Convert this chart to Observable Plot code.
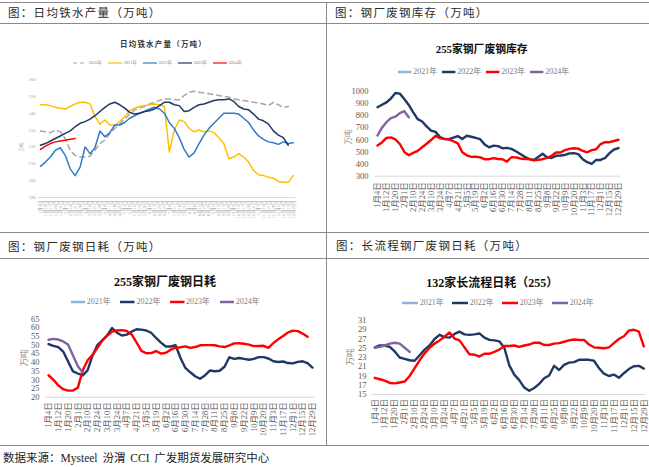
<!DOCTYPE html>
<html><head><meta charset="utf-8">
<script src="https://cdn.jsdelivr.net/npm/d3@7"></script>
<script src="https://cdn.jsdelivr.net/npm/@observablehq/plot@0.6"></script>
<style>
body{margin:0;background:#fff;}
#root{position:relative;width:649px;height:467px;overflow:hidden;background:#fff;font-family:"Liberation Serif","Noto Sans CJK SC",serif;}
.hdr{position:absolute;font-family:"Noto Sans CJK SC";font-size:11.5px;letter-spacing:1.3px;color:#2a2a2a;line-height:1;white-space:nowrap;transform:translateY(-50%);}
.hl{position:absolute;height:1px;background:#8a8a8a;}
.vl{position:absolute;width:1px;background:#8a8a8a;}
.ttl{position:absolute;transform:translate(-50%,-50%);white-space:nowrap;font-weight:bold;line-height:1;color:#111;}
.ytl{position:absolute;transform:translate(-50%,-50%) rotate(-90deg);white-space:nowrap;line-height:1;color:#8c8c8c;font-family:"Noto Sans CJK SC";}
.lg{position:absolute;display:flex;align-items:center;height:10px;transform:translateY(-50%);white-space:nowrap;line-height:1;color:#808080;}
.plotbox{position:absolute;}
.src{position:absolute;left:3px;top:457px;transform:translateY(-50%);font-size:11.5px;color:#222;white-space:nowrap;font-family:"Liberation Serif","Noto Sans CJK SC",serif;word-spacing:2px;}
</style>
</head><body>
<div id="root">
  <div class="hl" style="left:0;top:2px;width:649px"></div>
  <div class="hl" style="left:0;top:23px;width:649px"></div>
  <div class="hl" style="left:0;top:232px;width:649px"></div>
  <div class="hl" style="left:0;top:258px;width:649px"></div>
  <div class="hl" style="left:0;top:445px;width:649px"></div>
  <div class="vl" style="left:326px;top:2px;height:443px"></div>
  <div class="hdr" style="left:8px;top:13px">图：日均铁水产量（万吨）</div>
  <div class="hdr" style="left:335px;top:13px">图：钢厂废钢库存（万吨）</div>
  <div class="hdr" style="left:8px;top:246.5px">图：钢厂废钢日耗（万吨）</div>
  <div class="hdr" style="left:336px;top:246px">图：长流程钢厂废钢日耗（万吨）</div>
  <div class="src">数据来源：Mysteel 汾渭 CCI 广发期货发展研究中心</div>
</div>
<script>
// ---------- data ----------
const weeks1 = ["1月3日","1月10日","1月17日","1月24日","1月31日","2月7日","2月14日","2月21日","2月28日","3月7日","3月14日","3月21日","3月28日","4月4日","4月11日","4月18日","4月25日","5月2日","5月9日","5月16日","5月23日","5月30日","6月6日","6月13日","6月20日","6月27日","7月4日","7月11日","7月18日","7月25日","8月1日","8月8日","8月15日","8月22日","8月29日","9月5日","9月12日","9月19日","9月26日","10月3日","10月10日","10月17日","10月24日","10月31日","11月7日","11月14日","11月21日","11月28日","12月5日","12月12日","12月19日","12月26日"];
const ironSeries = ["2020年","2021年","2022年","2023年","2024年"];
const iron2020 = [229.5,229,228.5,230,229,225,218,215,214,214,214.5,218,222,224,228,231,233.5,236.5,239.5,242,243,244,245.5,246.5,247.5,248.5,248.5,248,248,250.5,252.5,253,252.5,252,251.5,251,250.5,250,249.5,248.5,248,247.5,247,246.5,246,245.5,244.5,246.5,245,243.5,244];
const iron2021 = [245,245,244.5,243.5,243,242.5,244,245.5,246.5,246.5,245.5,238,233.5,236,233,233,235,238,241.5,243,244,244.5,245,245.5,245,244,217,230,236,235,231,229,230,229,229.5,228.5,225.5,222,213,214,216,214,211,206,203.5,203,202,201.5,199.5,199,199,203];
const iron2022 = [208.5,211,214,218,219.5,215,207,203,208,220,216,219.5,229.5,226,228.5,233,233,234.5,237,238.5,240,241,242.5,243.5,242.5,240,234.5,231,225.5,218.5,214,216.5,222,227,231,234,237,240,240,240,239.5,237,234.5,230,226.5,224.5,223,222.5,221.5,223,222,222.5];
const iron2023 = [221,222,223.5,225,226.5,228,229.5,232,234,235,236.5,238.5,241,243.5,245.5,246.5,245,243,240.5,239.5,240,241,241.5,242.5,244.5,246.5,246.5,245,244.5,241,241.5,243.5,245,245.5,246.5,247.5,248,248,248.5,247,244,242.5,242,239.5,236.5,235.5,233.5,229.5,227,225.5,221];
const iron2024 = [218.5,220.5,222,223,223.5,224,224.5,225];
const ironTicks = [190,200,210,220,230,240,250,260];

const dates = ["1月4日","1月8日","1月12日","1月16日","1月20日","1月28日","2月1日","2月6日","2月10日","2月17日","2月24日","3月3日","3月10日","3月17日","3月24日","3月31日","4月7日","4月14日","4月21日","4月28日","5月5日","5月12日","5月19日","5月26日","6月2日","6月9日","6月16日","6月23日","6月30日","7月7日","7月14日","7月21日","7月28日","8月4日","8月11日","8月18日","8月25日","9月1日","9月8日","9月15日","9月22日","9月28日","10月9日","10月13日","10月20日","10月27日","11月3日","11月10日","11月17日","11月24日","12月1日","12月8日","12月15日","12月22日","12月29日"];
const yearSeries = ["2021年","2022年","2023年","2024年"];

const stock2021 = [];
const stock2022 = [868,888,908,940,985,980,935,887,825,770,750,710,675,665,622,605,605,618,630,607,633,625,615,605,562,538,552,548,530,533,525,505,482,460,442,434,458,485,455,450,468,470,475,488,490,482,440,415,402,434,434,450,490,520,532];
const stock2023 = [553,578,615,620,603,565,500,473,492,508,538,567,598,632,612,607,602,588,570,497,472,459,460,455,440,440,449,442,440,420,456,455,446,442,441,430,434,440,451,468,495,495,515,525,530,527,508,497,515,522,565,580,580,590,600];
const stock2024 = [635,700,745,778,790,820,835,785];
const stockTicks = [300,400,500,600,700,800,900,1000];

const use2021 = [];
const use2022 = [50.5,49.5,48.7,46.2,40.5,34.8,33.6,32.5,35.5,43.8,49.9,52.7,55.5,59.7,57,55.4,55.9,57.6,59,58.8,58.3,57,54,51.3,49.1,49.1,49.8,42.5,36.8,34.3,32,30.6,32.5,35.3,34.9,35.2,37.5,42.9,42,42.5,42,41.5,42,43,43,42.2,40.6,40.2,40.5,39.6,39.4,40.3,40.6,39.5,37];
const use2023 = [32.6,30,26.8,24.6,23.8,23.8,25.5,35.5,41.2,44.3,48.3,52.5,55.3,57.6,58.3,58.5,58,56,51.4,46.6,45.2,45.3,46.5,45,45.5,47.3,48.4,48.7,49.2,48.3,48.8,49.8,49.9,49.9,49.8,49.2,48.8,49.8,50.9,51,50.7,50.2,49.3,49.4,49.5,48.3,51.1,53.2,55.1,57.2,58.2,57.9,56.5,54.7];
const use2024 = [53,53.5,53.1,52,50.2,44,37.8,34.2];
const useTicks = [20,25,30,35,40,45,50,55,60,65];

const long2021 = [];
const long2022 = [25.2,25.6,25.6,25.3,24.3,23,22.7,22.4,22.3,23.5,24.7,25.6,27,27.9,27.4,27.3,28.1,28.6,28,27.9,28,28.2,27.3,26.8,26.7,26.5,25.1,21.3,19.3,18.1,16.5,15.8,16.4,17.3,18.5,19.1,21.2,20.3,21.4,21.9,22,22.5,22.5,22.5,22.3,20.7,19.5,19,19.3,18.6,19.6,20.5,21.1,21.2,20.6];
const long2023 = [18.6,18.3,18,17.5,17.4,17.6,17.8,19,20.7,22.4,23.9,25.1,26,26.7,27.5,28.4,27.1,26.7,25.2,23.7,23.6,23.2,23.8,23.8,24.2,24.7,25.5,25.5,25.6,25.3,25.6,25.8,26.2,26.2,25.7,25.7,26,26.1,26.4,26.7,26.9,26.8,26.8,25.8,25.2,25.1,25,25.2,26.1,27,27.6,28.8,29,28.6,25.4];
const long2024 = [25.1,25.3,25.6,26,26.2,26,25.1,24.2];
const longTicks = [15,17,19,21,23,25,27,29,31];

// ---------- colours ----------
const c5 = {"2020年":"#a6a6a6","2021年":"#ffc000","2022年":"#2e7cc9","2023年":"#1f3864","2024年":"#ff0000"};
const c4 = {"2021年":"#8db4e2","2022年":"#1f3864","2023年":"#ff0000","2024年":"#8064a2"};

const root = document.getElementById("root");

function panel(cfg){
  const marks = [
    Plot.ruleY([cfg.yDomain[0]], {stroke:"#d9d9d9", strokeWidth:1}),
    Plot.axisY({ticks: cfg.yTicks, tickFormat: d => String(d), tickSize:0, tickPadding: cfg.yPad, label:null}),
    Plot.axisX({ticks: cfg.xTicks, tickFormat: i => cfg.labels[i], tickRotate:-90, tickSize:0, tickPadding: cfg.xPad, label:null})
  ];
  for (const s of cfg.series){
    if (!s.values.length) continue;
    marks.push(Plot.line(s.values.map((v,i)=>({i, v})), {x:"i", y:"v", stroke:s.color, strokeWidth:s.width, strokeDasharray:s.dash, strokeLinejoin:"round", strokeLinecap:"round"}));
  }
  const svg = Plot.plot({
    width: cfg.width, height: cfg.height,
    marginLeft: cfg.ml, marginRight: cfg.mr, marginTop: cfg.mt, marginBottom: cfg.mb,
    x: {domain:[-0.5, cfg.labels.length - 0.5], axis:null, label:null},
    y: {domain: cfg.yDomain, axis:null, label:null},
    style: {background:"transparent", color: cfg.tickColor, fontSize: cfg.font, fontFamily:'"Liberation Serif","Noto Sans CJK SC",serif', overflow:"visible"},
    marks
  });
  const box = document.createElement("div");
  box.className = "plotbox";
  box.style.left = cfg.left + "px"; box.style.top = cfg.top + "px";
  box.appendChild(svg);
  root.appendChild(box);
}

function addDiv(cls, text, styles){
  const d = document.createElement("div");
  d.className = cls; d.textContent = text;
  Object.assign(d.style, styles);
  root.appendChild(d);
  return d;
}

function legend(names, colors, x0, pitch, y, sw, lw, font, dashName){
  names.forEach((n,k)=>{
    const item = document.createElement("div");
    item.className = "lg";
    item.style.left = (x0 + k*pitch) + "px";
    item.style.top = y + "px";
    item.style.fontSize = font;
    const s = document.createElementNS("http://www.w3.org/2000/svg","svg");
    s.setAttribute("width", sw); s.setAttribute("height", 6);
    s.style.marginRight = "1.5px";
    const l = document.createElementNS("http://www.w3.org/2000/svg","line");
    l.setAttribute("x1",0); l.setAttribute("x2",sw); l.setAttribute("y1",3); l.setAttribute("y2",3);
    l.setAttribute("stroke", colors[n]); l.setAttribute("stroke-width", lw);
    if (n === dashName) l.setAttribute("stroke-dasharray","4,3");
    s.appendChild(l);
    item.appendChild(s);
    const t = document.createElement("span"); t.textContent = n;
    item.appendChild(t);
    root.appendChild(item);
  });
}

// ---------- panel 1 : 日均铁水产量 ----------
panel({left:0, top:23, width:326, height:209, ml:37.5, mr:30.8, mt:56, mb:35,
  labels: weeks1, xTicks: d3.range(weeks1.length), yDomain:[190,260], yTicks: ironTicks,
  font:"4.5px", xPad:3, yPad:2.5, tickColor:"#a0a0a0",
  series:[
    {values:iron2020, color:c5["2020年"], width:1.5, dash:"5,4"},
    {values:iron2021, color:c5["2021年"], width:1.5},
    {values:iron2022, color:c5["2022年"], width:1.5},
    {values:iron2023, color:c5["2023年"], width:1.5},
    {values:iron2024, color:c5["2024年"], width:1.5}
  ]});
addDiv("ttl","日均铁水产量（万吨）",{left:"163.5px",top:"44.3px",fontSize:"7.5px",letterSpacing:"1.2px",fontFamily:"Noto Sans CJK SC",color:"#333"});
legend(ironSeries, c5, 73, 35, 63.3, 14, 1.2, "4.5px", "2020年");
addDiv("ytl","万吨",{left:"21px",top:"147px",fontSize:"4.5px",color:"#999"});

// ---------- panel 2 : 255家钢厂废钢库存 ----------
panel({left:326, top:23, width:323, height:209, ml:48.8, mr:28.8, mt:67.7, mb:56.3,
  labels: dates, xTicks: d3.range(0, dates.length, 2), yDomain:[300,1000], yTicks: stockTicks,
  font:"8.5px", xPad:6, yPad:6.8, tickColor:"#595959",
  series:[
    {values:stock2021, color:c4["2021年"], width:2.4},
    {values:stock2022, color:c4["2022年"], width:2.4},
    {values:stock2023, color:c4["2023年"], width:2.4},
    {values:stock2024, color:c4["2024年"], width:2.4}
  ]});
addDiv("ttl","255家钢厂废钢库存",{left:"481.7px",top:"49.3px",fontSize:"10.8px"});
legend(yearSeries, c4, 398.3, 44, 72.3, 13.4, 2.5, "8px");
addDiv("ytl","万吨",{left:"347.7px",top:"137.3px",fontSize:"7.5px"});

// ---------- panel 3 : 255家钢厂废钢日耗 ----------
panel({left:0, top:258, width:326, height:187, ml:45.6, mr:11.6, mt:60.3, mb:48.3,
  labels: dates, xTicks: d3.range(0, dates.length, 2), yDomain:[20,65], yTicks: useTicks,
  font:"8.5px", xPad:5, yPad:6.5, tickColor:"#595959",
  series:[
    {values:use2021, color:c4["2021年"], width:2.4},
    {values:use2022, color:c4["2022年"], width:2.4},
    {values:use2023, color:c4["2023年"], width:2.4},
    {values:use2024, color:c4["2024年"], width:2.4}
  ]});
addDiv("ttl","255家钢厂废钢日耗",{left:"165px",top:"281.7px",fontSize:"12px"});
legend(yearSeries, c4, 70.7, 49.7, 301.7, 14.5, 2.5, "8px");
addDiv("ytl","万吨",{left:"23.3px",top:"358.3px",fontSize:"8.5px"});

// ---------- panel 4 : 132家长流程日耗 ----------
panel({left:326, top:258, width:323, height:187, ml:45.8, mr:3.2, mt:62, mb:51,
  labels: dates, xTicks: d3.range(0, dates.length, 2), yDomain:[15,31], yTicks: longTicks,
  font:"8.5px", xPad:4.5, yPad:5.8, tickColor:"#595959",
  series:[
    {values:long2021, color:c4["2021年"], width:2.4},
    {values:long2022, color:c4["2022年"], width:2.4},
    {values:long2023, color:c4["2023年"], width:2.4},
    {values:long2024, color:c4["2024年"], width:2.4}
  ]});
addDiv("ttl","132家长流程日耗（255）",{left:"492.3px",top:"283px",fontSize:"12px"});
legend(yearSeries, c4, 401.7, 50, 303.3, 16.6, 2.5, "8px");
addDiv("ytl","万吨",{left:"349px",top:"356.7px",fontSize:"8.5px"});
</script>
</body></html>
